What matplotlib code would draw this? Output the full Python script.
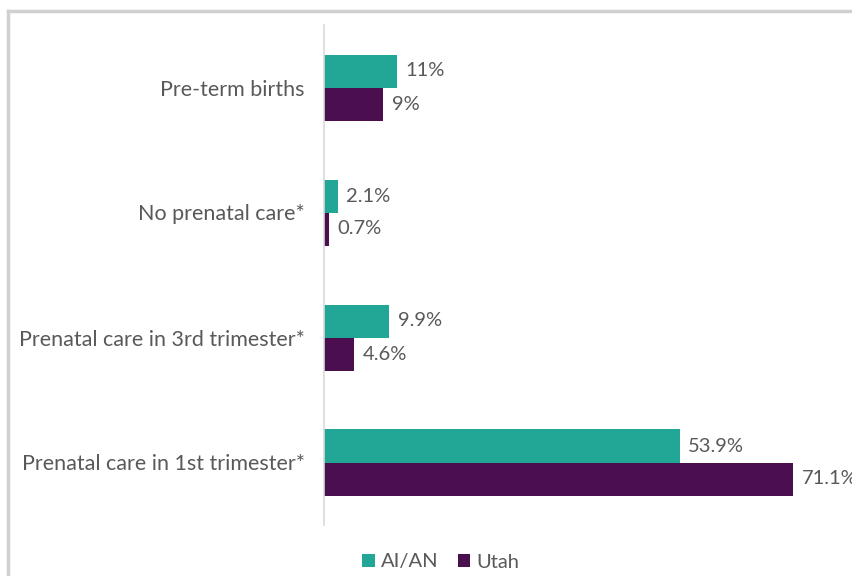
import numpy as np
import matplotlib
matplotlib.use('Agg')
import matplotlib.pyplot as plt
from matplotlib.lines import Line2D

categories = ['Pre-term births', 'No prenatal care*', 'Prenatal care in 3rd trimester*', 'Prenatal care in 1st trimester*']
aian = [11, 2.1, 9.9, 53.9]
utah = [9, 0.7, 4.6, 71.1]
aian_labels = ['11%', '2.1%', '9.9%', '53.9%']
utah_labels = ['9%', '0.7%', '4.6%', '71.1%']

teal = '#22A696'
purple = '#4B0F4F'
grey = '#595959'
plt.rcParams['font.family'] = ['Lato', 'DejaVu Sans']

fig = plt.figure(figsize=(8.53, 5.76), dpi=100)
ax = fig.add_axes([324/853, 1-525/576, 1-324/853, 500/576])

y = np.arange(len(categories))
h = 0.264
ax.barh(y - h/2, aian, height=h, color=teal, label='AI/AN')
ax.barh(y + h/2, utah, height=h, color=purple, label='Utah')

for yi, v, t in zip(y, aian, aian_labels):
    ax.annotate(t, (v, yi - h/2), xytext=(6, 0), textcoords='offset points',
                va='center', ha='left', fontsize=14.5, color=grey)
for yi, v, t in zip(y, utah, utah_labels):
    ax.annotate(t, (v, yi + h/2), xytext=(6, 0), textcoords='offset points',
                va='center', ha='left', fontsize=14.5, color=grey, annotation_clip=False)

ax.set_ylim(3.5, -0.5)
ax.set_xlim(0, 529/6.6)
ax.set_yticks(y)
ax.set_yticklabels(categories, fontsize=15.5, color=grey)
ax.tick_params(axis='y', length=0, pad=14)
ax.set_xticks([])
for s in ['top', 'right', 'bottom']:
    ax.spines[s].set_visible(False)
ax.spines['left'].set_color('#d9d9d9')
ax.spines['left'].set_linewidth(1.2)

# outer chart frame (partially visible)
fig.add_artist(Line2D([8/853, 1], [1-11/576, 1-11/576], color='#d0d0d0', lw=2.5))
fig.add_artist(Line2D([8/853, 8/853], [0, 1-11/576], color='#d0d0d0', lw=2.5))

fig.legend(loc='center', bbox_to_anchor=(441/853, 1-562/576), ncol=2, frameon=False,
           fontsize=14.5, labelcolor=grey, handlelength=0.6, handleheight=0.6,
           handletextpad=0.3, columnspacing=1.0)

fig.savefig('out.png', dpi=100)
